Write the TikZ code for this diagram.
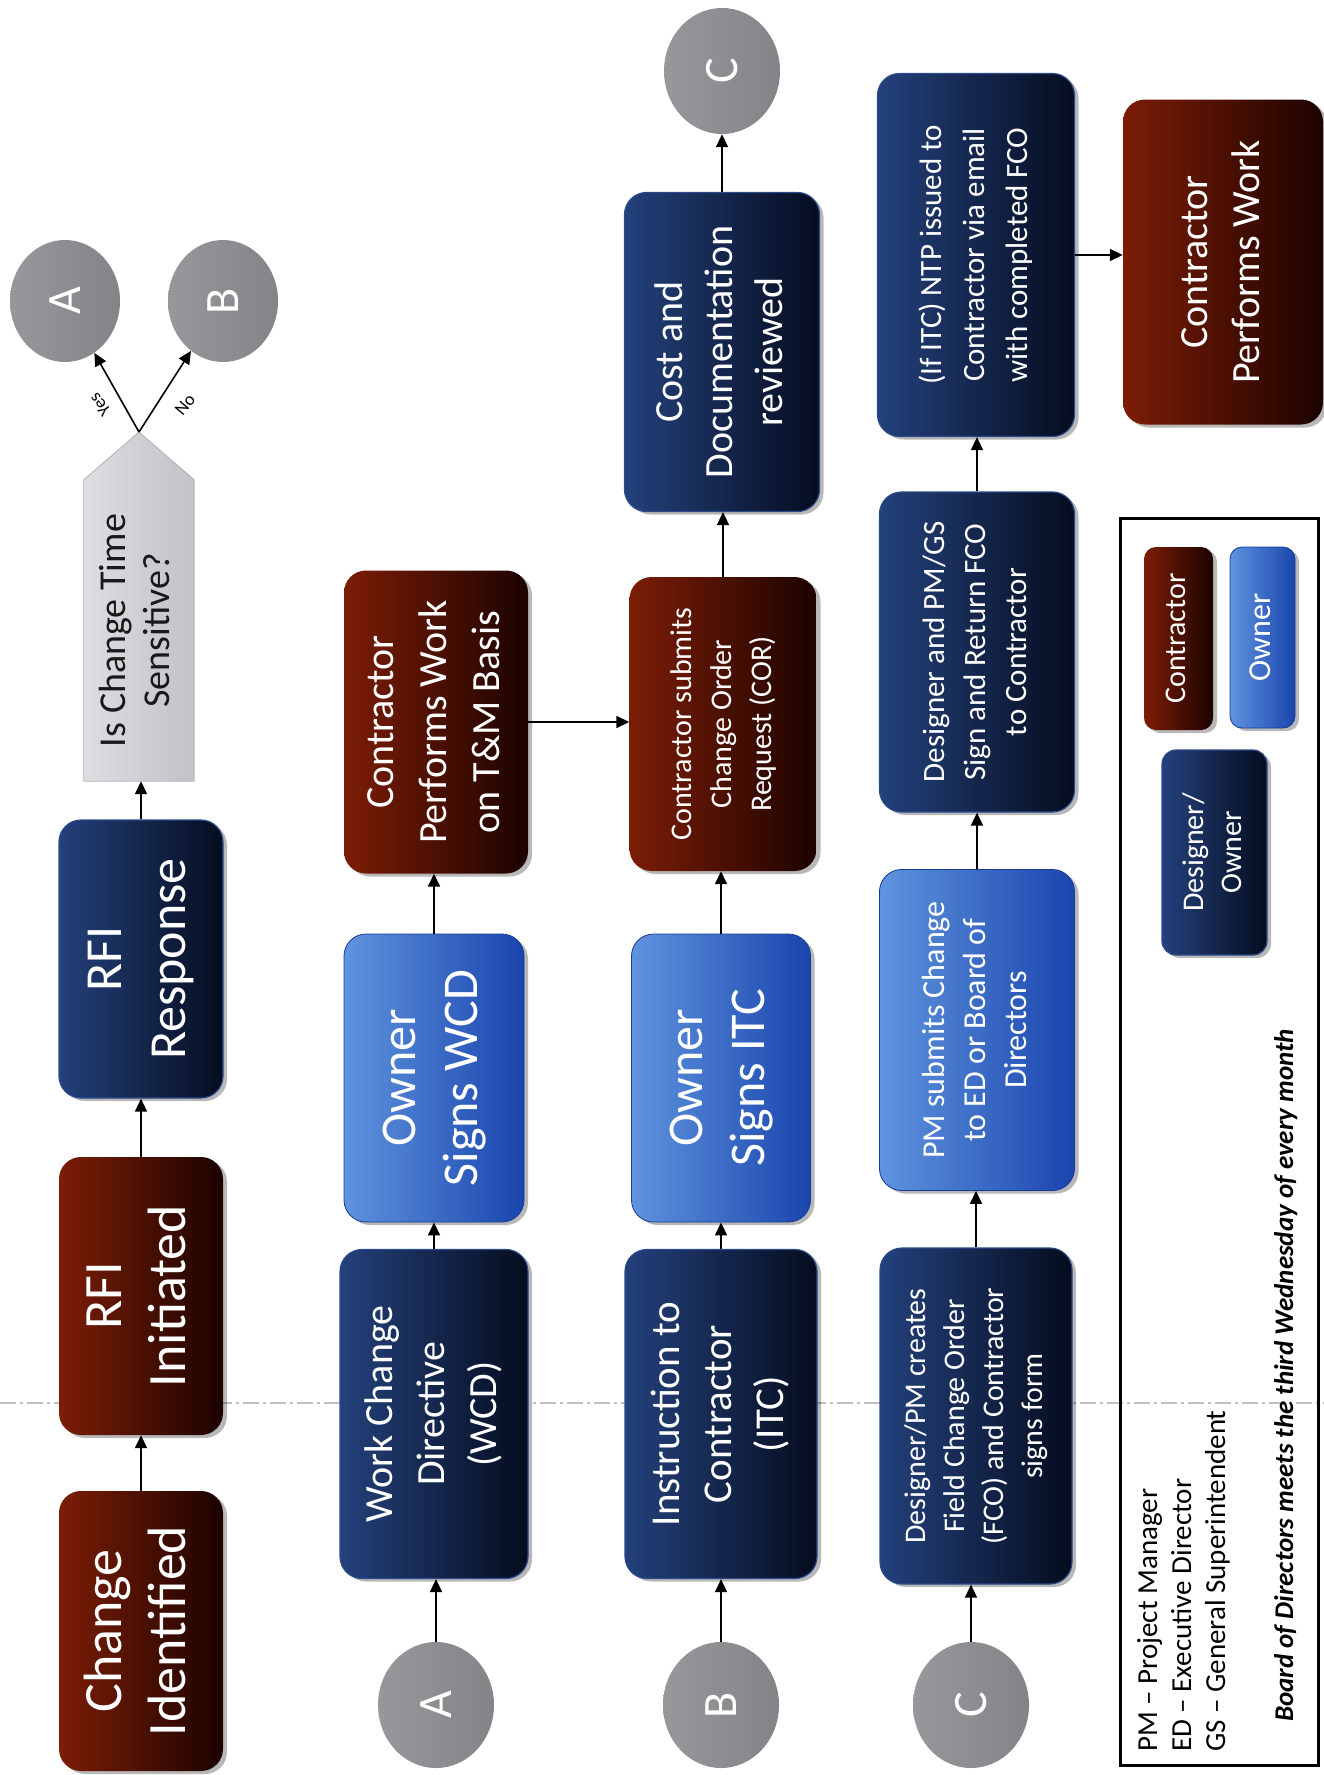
\documentclass[tikz,border=0pt]{standalone}
\usepackage{fontspec}
\setmainfont{Carlito}
\usetikzlibrary{shapes.geometric,arrows.meta,shadows}
\definecolor{redL}{HTML}{7C1D06}
\definecolor{redR}{HTML}{1C0300}
\definecolor{dbL}{HTML}{24417C}
\definecolor{dbR}{HTML}{050C1E}
\definecolor{dbBorder}{HTML}{2A4A8C}
\definecolor{lbL}{HTML}{5F94DE}
\definecolor{lbR}{HTML}{1A45AE}
\definecolor{grayL}{HTML}{9A979C}
\definecolor{grayR}{HTML}{858288}
\definecolor{qL}{HTML}{DEDDE2}
\definecolor{qR}{HTML}{C2C1C7}
\newcommand{\vtext}[1]{\rotatebox{90}{\begin{tabular}{@{}c@{}}#1\end{tabular}}}
\pgfdeclarelayer{bg}
\pgfsetlayers{bg,main}
\begin{document}
\begin{tikzpicture}[x=1pt,y=-1pt,
  boxbase/.style={rounded corners=22pt, inner sep=0pt, text=white},
  shd/.style={drop shadow={shadow xshift=4pt,shadow yshift=-3pt,opacity=0.28,fill=black}},
  redbox/.style={boxbase, left color=redL, right color=redR, shd},
  dbbox/.style={boxbase, left color=dbL, right color=dbR, draw=dbBorder, line width=1.2pt, shd},
  lbbox/.style={boxbase, left color=lbL, right color=lbR, draw=lbR!85!black, line width=0.8pt, shd},
  conn/.style={ellipse, minimum width=116pt, minimum height=126pt, inner sep=0pt, left color=grayL, right color=grayR, text=white, font=\fontsize{48}{58}\selectfont},
  arr/.style={-{Triangle[length=13pt,width=12pt]}, line width=1.6pt},
  fs/.style 2 args={font=\fontsize{#1}{#2}\selectfont},
  lgtext/.style={rotate=90, anchor=base west, inner sep=0pt, font=\fontsize{29}{34}\selectfont},
  yn/.style={inner sep=0pt, font=\fontsize{18}{20}\selectfont}
]
\useasboundingbox (0,0) rectangle (1324,1775);
\begin{pgfonlayer}{bg}
\fill[white] (0,0) rectangle (1324,1775);
\draw[black!25, line width=1.3pt, dash pattern=on 16pt off 4pt on 3pt off 4pt] (0,1403) -- (1324,1403);
\end{pgfonlayer}

% column 1
\node[redbox, minimum width=164pt, minimum height=280pt, fs={54}{64}] (ci) at (141,1631) {\vtext{Change\\Identified}};
\node[redbox, minimum width=164pt, minimum height=278pt, fs={54}{64}] (ri) at (141,1296) {\vtext{RFI\\Initiated}};
\node[dbbox, minimum width=164pt, minimum height=278pt, fs={52}{64}] (rr) at (141,959) {\vtext{RFI\\Response}};
\node[inner sep=0pt, minimum width=110pt, minimum height=301pt, fs={38}{44}, text=black!90] (q) at (139,630.5) {\vtext{Is Change Time\\Sensitive?}};
\coordinate (qtip) at (139,432);
\begin{pgfonlayer}{bg}
\draw[left color=qL, right color=qR, draw=black!30, line width=0.8pt] (q.south west) -- (q.north west) -- (qtip) -- (q.north east) -- (q.south east) -- cycle;
\end{pgfonlayer}
\node[conn, minimum width=110pt, minimum height=122pt] (a1) at (65,301) {\rotatebox{90}{A}};
\node[conn, minimum width=110pt, minimum height=122pt] (b1) at (223,301) {\rotatebox{90}{B}};

% column 2
\node[conn] (a2) at (436,1705) {\rotatebox{90}{A}};
\node[dbbox, minimum width=188pt, minimum height=329pt, fs={40}{52}] (wcd) at (434,1414) {\vtext{Work Change\\Directive\\(WCD)}};
\node[lbbox, minimum width=180pt, minimum height=288pt, fs={50}{62}] (osw) at (434,1078) {\vtext{Owner\\Signs WCD}};
\node[redbox, minimum width=184pt, minimum height=303pt, fs={40}{53}] (tm) at (436,722) {\vtext{Contractor\\Performs Work\\on T\&M Basis}};

% column 3
\node[conn] (b2) at (721,1705) {\rotatebox{90}{B}};
\node[dbbox, minimum width=192pt, minimum height=329pt, fs={41}{52}] (itc) at (721,1414) {\vtext{Instruction to\\Contractor\\(ITC)}};
\node[lbbox, minimum width=179pt, minimum height=288pt, fs={50}{62}] (osi) at (721,1078) {\vtext{Owner\\Signs ITC}};
\node[redbox, minimum width=187pt, minimum height=294pt, fs={30}{40}] (cor) at (723,724) {\vtext{Contractor submits\\Change Order\\Request (COR)}};
\node[dbbox, minimum width=195pt, minimum height=319pt, fs={40}{50}] (cost) at (722,352) {\vtext{Cost and\\Documentation\\reviewed}};
\node[conn] (c1) at (722,71) {\rotatebox{90}{C}};

% column 4
\node[conn] (c2) at (971,1705) {\rotatebox{90}{C}};
\node[dbbox, minimum width=192pt, minimum height=336pt, fs={30}{39}] (fco) at (976,1416) {\vtext{Designer/PM creates\\Field Change Order\\(FCO) and Contractor\\signs form}};
\node[lbbox, minimum width=195pt, minimum height=321pt, fs={32}{41}] (pms) at (977,1030) {\vtext{PM submits Change\\to ED or Board of\\Directors}};
\node[dbbox, minimum width=195pt, minimum height=320pt, fs={31}{41}] (dps) at (977,652) {\vtext{Designer and PM/GS\\Sign and Return FCO\\to Contractor}};
\node[dbbox, minimum width=197pt, minimum height=363pt, fs={31}{43}] (ntp) at (976,255) {\vtext{(If ITC) NTP issued to\\Contractor via email\\with completed FCO}};

% column 5
\node[redbox, minimum width=200pt, minimum height=325pt, fs={40}{52}] (cpw) at (1223,262) {\vtext{Contractor\\Performs Work}};

% legend
\node[draw=black, line width=3pt, minimum width=198pt, minimum height=1247pt, inner sep=0pt] (legend) at (1219,1141.5) {};
\node[redbox, rounded corners=12pt, minimum width=69pt, minimum height=183pt, fs={30}{36}] (lgc) at (1178.5,638.5) {\vtext{Contractor}};
\node[lbbox, rounded corners=12pt, minimum width=65pt, minimum height=181pt, fs={32}{38}] (lgo) at (1262.5,637.5) {\vtext{Owner}};
\node[dbbox, rounded corners=14pt, minimum width=105pt, minimum height=205pt, fs={30}{38}] (lgd) at (1214.5,852.5) {\vtext{Designer/\\Owner}};
\node[lgtext] (lpm) at (1157,1752) {PM – Project Manager};
\node[lgtext] (led) at (1191,1752) {ED – Executive Director};
\node[lgtext] (lgs) at (1225,1752) {GS – General Superintendent};
\node[lgtext, font=\fontsize{27}{34}\selectfont\bfseries\itshape] (lbd) at (1293,1722) {Board of Directors meets the third Wednesday of every month};

% connectors
\draw[arr] (ci.north) -- (ci.north |- ri.south);
\draw[arr] (ri.north) -- (ri.north |- rr.south);
\draw[arr] (rr.north) -- (rr.north |- q.south);
\draw[arr] (qtip) -- (a1);
\draw[arr] (qtip) -- (b1);
\node[yn, rotate=128] (lyes) at (100,405) {Yes};
\node[yn, rotate=50] (lno) at (185,405) {No};
\draw[arr] (a2.north) -- (a2.north |- wcd.south);
\draw[arr] (wcd.north) -- (wcd.north |- osw.south);
\draw[arr] (osw.north) -- (osw.north |- tm.south);
\draw[arr] (tm.east) -- (tm.east -| cor.west);
\draw[arr] (b2.north) -- (b2.north |- itc.south);
\draw[arr] (itc.north) -- (itc.north |- osi.south);
\draw[arr] (osi.north) -- (osi.north |- cor.south);
\draw[arr] (cor.north) -- (cor.north |- cost.south);
\draw[arr] (cost.north) -- (cost.north |- c1.south);
\draw[arr] (c2.north) -- (c2.north |- fco.south);
\draw[arr] (fco.north) -- (fco.north |- pms.south);
\draw[arr] (pms.north) -- (pms.north |- dps.south);
\draw[arr] (dps.north) -- (dps.north |- ntp.south);
\draw[arr] (ntp.east) -- (ntp.east -| cpw.west);
\end{tikzpicture}
\end{document}
